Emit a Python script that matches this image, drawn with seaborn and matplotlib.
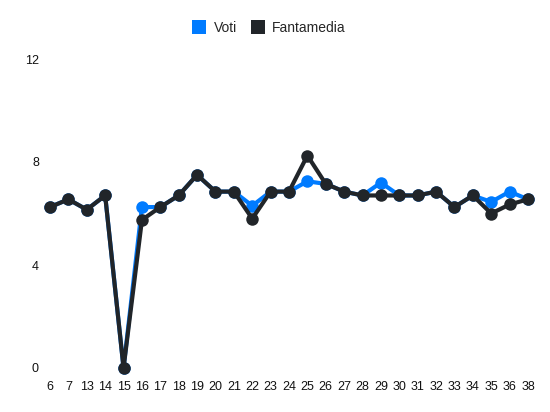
import pandas as pd
import numpy as np
import matplotlib
matplotlib.use("Agg")
import matplotlib.pyplot as plt
import seaborn as sns
from matplotlib.lines import Line2D

# Giornate and ratings
giornate = ['6', '7', '13', '14', '15', '16', '17', '18', '19', '20', '21', '22', '23', '24',
            '25', '26', '27', '28', '29', '30', '31', '32', '33', '34', '35', '36', '38']
voti = [6.25, 6.55, 6.15, 6.7, 0, 6.25, 6.25, 6.7, 7.5, 6.85, 6.85, 6.3, 6.85, 6.85,
        7.25, 7.15, 6.85, 6.7, 7.2, 6.7, 6.7, 6.85, 6.25, 6.7, 6.45, 6.85, 6.55]
fantamedia = [6.25, 6.55, 6.15, 6.7, 0, 5.75, 6.25, 6.7, 7.5, 6.85, 6.85, 5.8, 6.85, 6.85,
              8.25, 7.15, 6.85, 6.7, 6.7, 6.7, 6.7, 6.85, 6.25, 6.7, 6.0, 6.35, 6.55]
y_ticks = [0, 4, 8, 12]

colors = {'Voti': '#007bff', 'Fantamedia': '#212529'}

df = pd.DataFrame({
    'pos': list(range(len(giornate))) * 2,
    'valore': voti + fantamedia,
    'serie': ['Voti'] * len(voti) + ['Fantamedia'] * len(fantamedia),
})

sns.set_style("white")
plt.rcParams['font.family'] = ['Liberation Sans', 'DejaVu Sans']

fig = plt.figure(figsize=(5.5, 4.12), dpi=100)
ax = fig.add_axes([44.5 / 550, 44 / 412, 489 / 550, 309 / 412])

sns.lineplot(data=df, x='pos', y='valore', hue='serie', palette=colors,
             hue_order=['Voti', 'Fantamedia'], marker='o', markersize=9,
             markeredgewidth=0, linewidth=3, legend=False, ax=ax, clip_on=False)

ax.set_xlim(-0.3, len(giornate) - 0.7)
ax.set_ylim(0, 12)
ax.set_xticks(range(len(giornate)))
ax.set_xticklabels(giornate)
ax.set_yticks(y_ticks)
ax.set_xlabel('')
ax.set_ylabel('')
ax.tick_params(axis='both', length=0, labelsize=9, colors='#111111')
ax.tick_params(axis='x', pad=9.5)
ax.tick_params(axis='y', pad=4)
sns.despine(left=True, bottom=True)

handles = [Line2D([0], [0], marker='s', linestyle='', markersize=10,
                  markerfacecolor=colors[k], markeredgewidth=0, label=k)
           for k in ['Voti', 'Fantamedia']]
fig.legend(handles=handles, loc='center', bbox_to_anchor=(269 / 550, 1 - 28 / 412), ncol=2,
           frameon=False, fontsize=10, handletextpad=0.55, columnspacing=1.0,
           handlelength=1.0)

fig.savefig('out.png', dpi=100)
